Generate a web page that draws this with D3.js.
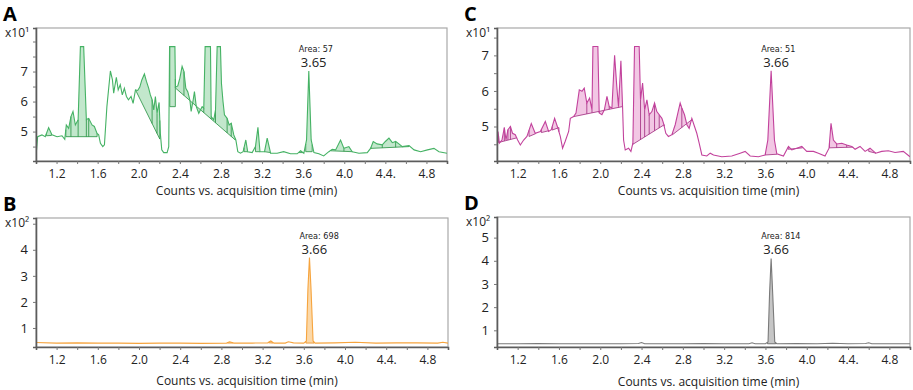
<!DOCTYPE html>
<html>
<head>
<meta charset="utf-8">
<script src="https://cdn.jsdelivr.net/npm/d3@7"></script>
<style>
  body { margin: 0; background: #fff; }
  text { font-family: "Open Sans", "Noto Sans", sans-serif; fill: #222; }
  .area-lbl { font-family: "Liberation Sans Narrow", "DejaVu Sans Condensed", sans-serif; font-size: 9px; }
</style>
</head>
<body>
<div id="container"></div>
<script>
/* DATA */
// shared x axis
const xMinorTicks = [1.2, 1.4, 1.6, 1.8, 2.0, 2.2, 2.4, 2.6, 2.8, 3.0, 3.2, 3.4, 3.6, 3.8, 4.0, 4.2, 4.4, 4.6, 4.8]
const xLabelValues = [1.2, 1.6, 2.0, 2.4, 2.8, 3.2, 3.6, 4.0, 4.4, 4.8]
const xLabels = ["1.2", "1.6", "2.0", "2.4", "2.8", "3.2", "3.6", "4.0", "4.4.", "4.8"]

// panel A (x10^1)
const traceA = [
  [1.0,4.17],[1.016,4.83],[1.058,4.89],[1.09,4.83],[1.123,5.13],[1.156,4.89],[1.205,4.83],[1.253,4.86],
  [1.28,4.74],[1.295,5.22],[1.318,5.11],[1.34,5.5],[1.36,5.67],[1.383,5.22],[1.41,5.39],[1.432,7.83],
  [1.464,7.83],[1.49,5.4],[1.513,5.44],[1.545,5.22],[1.568,5.17],[1.594,4.94],[1.61,4.89],[1.627,4.61],
  [1.65,4.5],[1.666,4.56],[1.69,5.83],[1.724,7.02],[1.744,6.72],[1.756,6.28],[1.782,6.81],[1.8,6.39],
  [1.82,6.56],[1.84,6.22],[1.86,6.44],[1.88,6.17],[1.9,6.06],[1.925,6.17],[1.945,5.94],[1.968,6.39],
  [1.99,6.37],[2.01,6.48],[2.03,6.72],[2.055,6.92],[2.075,6.67],[2.097,6.44],[2.113,6.22],[2.13,6.06],
  [2.146,5.72],[2.162,6.17],[2.178,5.61],[2.198,5.97],[2.21,4.94],[2.224,4.39],[2.243,4.3],[2.276,4.3],
  [2.292,4.5],[2.30,7.83],[2.352,7.83],[2.357,6.48],[2.38,6.52],[2.40,6.78],[2.422,7.17],[2.44,7.0],
  [2.458,6.44],[2.477,6.33],[2.497,6.06],[2.51,5.67],[2.53,6.06],[2.542,6.33],[2.56,5.83],[2.584,5.61],
  [2.60,5.72],[2.617,5.83],[2.633,5.78],[2.646,7.83],[2.698,7.83],[2.705,5.5],[2.73,5.39],[2.747,5.72],
  [2.763,7.83],[2.795,7.83],[2.805,6.6],[2.82,6.0],[2.834,5.56],[2.86,5.44],[2.88,5.22],[2.9,5.28],
  [2.925,4.89],[2.945,4.72],[2.964,4.33],[2.99,4.28],[3.016,4.33],[3.042,4.72],[3.06,4.33],[3.104,4.3],
  [3.136,4.5],[3.16,5.14],[3.18,4.33],[3.224,4.33],[3.25,4.78],[3.283,4.28],[3.347,4.28],[3.41,4.33],
  [3.477,4.26],[3.542,4.26],[3.575,4.36],[3.607,4.28],[3.633,4.72],[3.655,7.02],[3.678,4.72],[3.705,4.3],
  [3.753,4.26],[3.80,4.19],[3.85,4.33],[3.883,4.41],[3.916,4.39],[3.964,4.72],[3.997,4.44],[4.045,4.5],
  [4.078,4.33],[4.143,4.28],[4.224,4.3],[4.256,4.44],[4.282,4.67],[4.32,4.59],[4.37,4.56],[4.40,4.67],
  [4.435,4.78],[4.468,4.63],[4.5,4.67],[4.532,4.59],[4.565,4.5],[4.63,4.53],[4.68,4.39],[4.743,4.33],
  [4.81,4.39],[4.873,4.44],[4.922,4.33],[5.0,4.28]
]
// integrated peaks: [start, end, baseline at start, baseline at end]
const peaksA = [
  [1.10,1.15,4.86,4.87],[1.29,1.595,4.83,4.83],[1.968,2.205,6.39,4.75],[2.302,2.356,5.83,5.83],
  [2.357,2.94,6.45,4.72],[3.025,3.06,4.33,4.33],[3.136,3.18,4.33,4.33],[3.224,3.283,4.33,4.3],
  [3.56,3.6,4.3,4.3],[3.625,3.688,4.33,4.33],[3.87,4.08,4.36,4.33],[4.26,4.63,4.44,4.5]
]
const dropsA = [1.34, 1.41, 1.49, 1.513, 2.13, 2.178, 2.44, 2.633, 2.705, 2.747, 2.86, 2.9, 3.997, 4.37, 4.5]
const yTicksA = [4.5, 5, 5.5, 6, 6.5, 7, 7.5, 8]
const yLabelsA = [5, 6, 7]

// panel C (x10^1)
const traceC = [
  [1.0,4.15],[1.01,4.86],[1.023,4.53],[1.048,4.62],[1.071,4.97],[1.087,4.62],[1.106,4.91],[1.13,5.0],
  [1.15,4.81],[1.177,4.77],[1.2,4.62],[1.226,4.48],[1.258,4.62],[1.29,4.72],[1.332,5.08],[1.37,4.81],
  [1.42,4.86],[1.468,5.14],[1.5,4.86],[1.526,4.91],[1.558,5.23],[1.59,4.95],[1.613,4.72],[1.635,4.39],
  [1.66,4.58],[1.694,4.86],[1.71,5.23],[1.742,5.28],[1.765,5.38],[1.797,6.03],[1.823,5.99],[1.845,6.08],
  [1.87,5.66],[1.897,5.8],[1.92,5.47],[1.929,7.25],[1.977,7.25],[1.99,5.38],[2.016,5.33],[2.04,5.47],
  [2.065,5.85],[2.087,5.56],[2.113,5.52],[2.139,7.0],[2.16,6.13],[2.177,5.56],[2.2,6.85],[2.216,5.56],
  [2.226,4.62],[2.242,4.34],[2.274,4.39],[2.297,4.3],[2.316,4.53],[2.332,7.25],[2.377,7.25],[2.39,5.75],
  [2.41,6.22],[2.43,5.47],[2.452,5.75],[2.474,5.33],[2.5,5.42],[2.526,5.66],[2.548,5.42],[2.571,5.33],
  [2.597,5.23],[2.613,5.09],[2.635,4.81],[2.66,4.72],[2.694,4.77],[2.726,5.05],[2.752,5.38],[2.774,5.66],
  [2.79,5.52],[2.816,5.33],[2.839,5.05],[2.861,4.95],[2.887,5.23],[2.913,5.0],[2.935,4.81],[2.958,4.53],
  [2.984,4.2],[3.032,4.17],[3.065,4.25],[3.097,4.2],[3.177,4.15],[3.274,4.17],[3.355,4.25],[3.403,4.3],
  [3.452,4.17],[3.532,4.15],[3.597,4.2],[3.623,4.62],[3.655,6.57],[3.687,4.62],[3.71,4.23],[3.774,4.17],
  [3.823,4.44],[3.855,4.34],[3.903,4.39],[3.952,4.44],[4.0,4.3],[4.065,4.3],[4.113,4.25],[4.177,4.17],
  [4.216,4.39],[4.235,5.09],[4.258,4.62],[4.29,4.51],[4.339,4.53],[4.387,4.48],[4.435,4.44],[4.468,4.36],
  [4.516,4.44],[4.565,4.3],[4.613,4.39],[4.668,4.25],[4.726,4.3],[4.79,4.32],[4.855,4.27],[4.935,4.3],
  [5.0,4.15]
]
const peaksC = [
  [1.015,1.19,4.55,4.68],[1.31,1.375,4.72,4.8],[1.43,1.5,4.83,4.88],[1.535,1.6,4.9,4.97],
  [1.745,2.215,5.28,5.56],[2.316,2.62,4.5,5.05],[2.70,2.89,4.77,5.2],[3.6,3.71,4.2,4.22],
  [3.82,3.96,4.36,4.4],[4.22,4.45,4.4,4.42],[4.6,4.67,4.3,4.25]
]
const dropsC = [1.071, 1.106, 1.13, 1.87, 1.92, 1.99, 2.087, 2.177, 2.39, 2.43, 2.474, 2.526, 2.571, 2.79, 4.29, 4.387]
const yTicksC = [4.5, 5, 5.5, 6, 6.5, 7, 7.5]
const yLabelsC = [5, 6, 7]

// panel B (x10^2)
const traceB = [
  [1.0,0.44],[1.2,0.42],[1.4,0.43],[1.6,0.42],[1.8,0.42],[2.0,0.41],[2.2,0.42],[2.4,0.42],[2.6,0.41],
  [2.85,0.42],[2.88,0.47],[2.92,0.42],[3.1,0.42],[3.25,0.43],[3.28,0.5],[3.31,0.42],[3.42,0.42],
  [3.45,0.47],[3.5,0.43],[3.6,0.42],[3.625,0.5],[3.64,2.5],[3.655,3.70],[3.67,2.5],[3.69,0.5],
  [3.71,0.42],[3.9,0.43],[4.1,0.45],[4.3,0.42],[4.5,0.43],[4.7,0.43],[4.9,0.42],[4.95,0.45],[5.0,0.42]
]
const peaksB = [[2.86,2.91,0.42,0.42],[3.26,3.3,0.43,0.42],[3.62,3.70,0.42,0.42]]
const yTicksB = [1, 2, 3, 4, 5]
const yLabelsB = [1, 2, 3, 4]

// panel D (x10^2)
const traceD = [
  [1.0,0.42],[1.2,0.42],[1.4,0.43],[1.6,0.42],[1.8,0.42],[2.0,0.42],[2.2,0.42],[2.37,0.43],[2.4,0.47],
  [2.43,0.42],[2.6,0.42],[2.8,0.42],[3.0,0.43],[3.2,0.42],[3.44,0.42],[3.47,0.46],[3.5,0.42],[3.6,0.42],
  [3.625,0.5],[3.64,2.6],[3.655,4.10],[3.67,2.6],[3.69,0.5],[3.71,0.42],[3.9,0.43],[4.1,0.42],[4.25,0.44],
  [4.4,0.42],[4.57,0.43],[4.6,0.46],[4.63,0.42],[4.8,0.42],[5.0,0.42]
]
const peaksD = [[3.62,3.70,0.42,0.42]]
const yTicksD = [1, 2, 3, 4, 5]
const yLabelsD = [1, 2, 3, 4, 5]

/* PANEL LAYOUT */
const panels = [
  { id: "A", box: [36, 447, 28, 161], yDomain: [4.02, 8.45], trace: traceA, peaks: peaksA, drops: dropsA,
    yTicks: yTicksA, yLabels: yLabelsA, exp: "x10¹", area: "Area: 57", rt: "3.65", rtAt: [3.655, 7.02],
    line: "#45b264", dot: "#23903f", fill: "#c2e7cc", titleGap: 34 },
  { id: "B", box: [36, 448, 218, 347], yDomain: [0.27, 5.22], trace: traceB, peaks: peaksB, drops: [],
    yTicks: yTicksB, yLabels: yLabelsB, exp: "x10²", area: "Area: 698", rt: "3.66", rtAt: [3.655, 3.70],
    line: "#f6a43e", dot: "#e88a1a", fill: "#fbd8a8", titleGap: 38 },
  { id: "C", box: [497, 910, 28, 161], yDomain: [4.03, 7.77], trace: traceC, peaks: peaksC, drops: dropsC,
    yTicks: yTicksC, yLabels: yLabelsC, exp: "x10¹", area: "Area: 51", rt: "3.66", rtAt: [3.655, 6.57],
    line: "#c2429c", dot: "#a0287e", fill: "#f2c7e4", titleGap: 34 },
  { id: "D", box: [497, 910, 217, 347], yDomain: [0.28, 5.89], trace: traceD, peaks: peaksD, drops: [],
    yTicks: yTicksD, yLabels: yLabelsD, exp: "x10²", area: "Area: 814", rt: "3.66", rtAt: [3.655, 4.10],
    line: "#7a7a7a", dot: "#555", fill: "#c6c6c6", titleGap: 39 }
]

const svg = d3.select("#container").append("svg")
  .attr("width", 913)
  .attr("height", 390)

// linear interpolation on the trace
function traceAt(trace, t) {
  const i = d3.bisector(d => d[0]).left(trace, t)
  if (i <= 0) return trace[0][1]
  if (i >= trace.length) return trace[trace.length - 1][1]
  const [t0, v0] = trace[i - 1], [t1, v1] = trace[i]
  return v0 + (v1 - v0) * (t - t0) / (t1 - t0)
}

panels.forEach(p => {
  const [left, right, top, bottom] = p.box
  const x = d3.scaleLinear().domain([1.0, 5.0]).range([left, right])
  const y = d3.scaleLinear().domain(p.yDomain).range([bottom, top])
  const g = svg.append("g")

  g.append("clipPath").attr("id", "clip" + p.id)
    .append("rect")
    .attr("x", left).attr("y", top)
    .attr("width", right - left).attr("height", bottom - top)

  g.append("rect")
    .attr("x", left).attr("y", top)
    .attr("width", right - left).attr("height", bottom - top)
    .attr("fill", "#fff")
    .attr("stroke", "#a8a8a8")
    .attr("stroke-width", 1.2)

  const plot = g.append("g").attr("clip-path", `url(#clip${p.id})`)

  // filled integration areas between trace and baseline
  p.peaks.forEach(([t0, t1, b0, b1]) => {
    const pts = p.trace.filter(d => d[0] > t0 && d[0] < t1)
    const seg = [[t0, traceAt(p.trace, t0)], ...pts, [t1, traceAt(p.trace, t1)]]
    const base = t => b0 + (b1 - b0) * (t - t0) / (t1 - t0)
    plot.append("path")
      .datum(seg)
      .attr("d", d3.area()
        .x(d => x(d[0]))
        .y0(d => y(base(d[0])))
        .y1(d => y(d[1])))
      .attr("fill", p.fill)
      .attr("stroke", "none")
    plot.append("line")
      .attr("x1", x(t0)).attr("y1", y(b0))
      .attr("x2", x(t1)).attr("y2", y(b1))
      .attr("stroke", p.dot)
      .attr("stroke-width", 0.8)
    ;[[t0, b0], [t1, b1]].forEach(([t, b]) => {
      plot.append("line")
        .attr("x1", x(t)).attr("x2", x(t))
        .attr("y1", y(b)).attr("y2", y(traceAt(p.trace, t)))
        .attr("stroke", p.dot).attr("stroke-width", 0.8)
    })
  })

  // drop lines inside peak groups
  p.drops.forEach(t => {
    const pk = p.peaks.find(d => t >= d[0] && t <= d[1])
    if (!pk) return
    const b = pk[2] + (pk[3] - pk[2]) * (t - pk[0]) / (pk[1] - pk[0])
    plot.append("line")
      .attr("x1", x(t)).attr("x2", x(t))
      .attr("y1", y(b)).attr("y2", y(traceAt(p.trace, t)))
      .attr("stroke", p.dot).attr("stroke-width", 0.8)
  })

  plot.append("path")
    .datum(p.trace)
    .attr("d", d3.line().x(d => x(d[0])).y(d => y(d[1])))
    .attr("fill", "none")
    .attr("stroke", p.line)
    .attr("stroke-width", 1.1)

  // axes
  const xAxis = d3.axisBottom(x)
    .tickValues(xMinorTicks)
    .tickSize(3)
    .tickPadding(5.5)
    .tickFormat(d => {
      const i = xLabelValues.findIndex(v => Math.abs(v - d) < 1e-6)
      return i < 0 ? "" : xLabels[i]
    })
  const gx = g.append("g").attr("transform", `translate(0,${bottom})`).call(xAxis)
  gx.select(".domain").attr("stroke", "#5c5c5c").attr("stroke-width", 1.6)
  gx.selectAll(".tick line").attr("stroke", "#777")
  gx.selectAll("text").attr("font-size", 12).attr("fill", "#222")
    .attr("font-family", "'Open Sans', sans-serif")

  const yAxis = d3.axisLeft(y)
    .tickValues(p.yTicks)
    .tickSize(3)
    .tickPadding(5)
    .tickFormat(d => p.yLabels.includes(d) ? d : "")
  const gy = g.append("g").attr("transform", `translate(${left},0)`).call(yAxis)
  gy.select(".domain").attr("stroke", "#5c5c5c").attr("stroke-width", 1.6)
  gy.selectAll(".tick line").attr("stroke", "#777")
  gy.selectAll("text").attr("font-size", 13).attr("fill", "#222")
    .attr("font-family", "'Open Sans', sans-serif")

  // labels
  g.append("text")
    .attr("x", left - 33).attr("y", top - 7)
    .attr("font-family", "'Liberation Sans', Arial, sans-serif")
    .attr("font-weight", "bold")
    .attr("font-size", 20)
    .style("fill", "#000")
    .text(p.id)

  g.append("text")
    .attr("x", left - 31).attr("y", top + 9)
    .attr("font-size", 12)
    .text(p.exp)

  g.append("text")
    .attr("x", (left + right) / 2 + 5).attr("y", bottom + p.titleGap)
    .attr("text-anchor", "middle")
    .attr("font-size", 12)
    .text("Counts vs. acquisition time (min)")

  const [rt, rv] = p.rtAt
  g.append("text")
    .attr("class", "area-lbl")
    .attr("x", x(rt) - 10).attr("y", y(rv) - 19)
    .text(p.area)
  g.append("text")
    .attr("x", x(rt) - 8).attr("y", y(rv) - 4)
    .attr("font-size", 13)
    .text(p.rt)
})
</script>
</body>
</html>
